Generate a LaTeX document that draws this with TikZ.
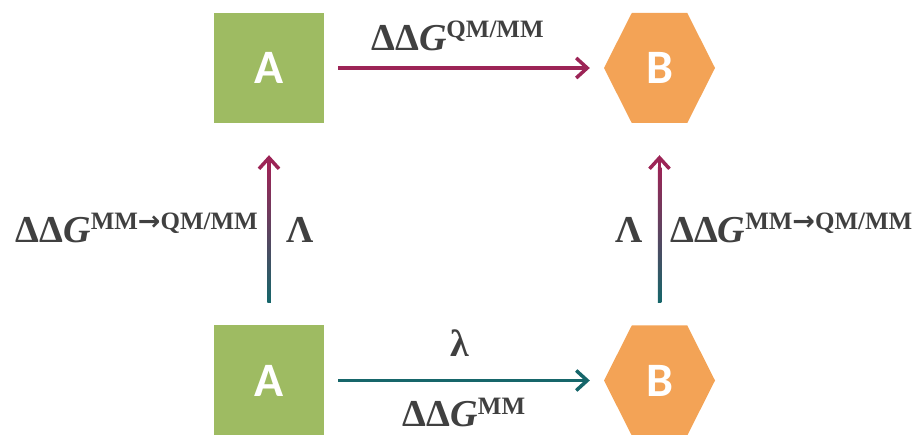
\documentclass[tikz,border=0pt]{standalone}
\usepackage{fontspec}
\setmainfont{Liberation Serif}
\newfontfamily\boxfont{Carlito}
\newfontfamily\arrfont{DejaVu Sans}
\usetikzlibrary{arrows.meta,calc}
\definecolor{boxgreen}{RGB}{158,187,98}
\definecolor{hexorange}{RGB}{243,163,86}
\definecolor{arrmaroon}{RGB}{156,36,86}
\definecolor{arrteal}{RGB}{22,102,106}
\definecolor{txtgray}{RGB}{64,64,64}
\newcommand{\ddgsup}[1]{{\fontsize{38}{38}\selectfont\bfseries\char"0394\char"0394\textit{G}\raisebox{13pt}{\fontsize{25}{25}\selectfont\bfseries #1}}}
\newcommand{\sarr}{{\arrfont\bfseries\fontsize{27}{27}\selectfont\raisebox{-1pt}{→}}}
\begin{document}
\begin{tikzpicture}[x=1pt,y=-1pt,
  sq/.style={rectangle, fill=boxgreen, minimum width=110pt, minimum height=110pt, inner sep=0pt,
     text=white, font=\boxfont\bfseries\fontsize{48}{48}\selectfont},
  hexbox/.style={rectangle, minimum width=111pt, minimum height=110pt, inner sep=0pt,
     text=white, font=\boxfont\bfseries\fontsize{48}{48}\selectfont},
  hexfill/.style={fill=hexorange},
  harrow/.style={line width=3.5pt, -{Straight Barb[length=11pt,width=20pt,line width=3.5pt]}},
  lbl/.style={text=txtgray, inner sep=0pt},
  greek/.style={text=txtgray, inner sep=0pt, font=\fontsize{38}{38}\selectfont\bfseries}
]
\useasboundingbox (0,0) rectangle (921,435);
% hexagon outlines
\coordinate (B1c) at (659.5,68);
\coordinate (B2c) at (659.5,380.5);
\foreach \c in {B1c,B2c}{
  \fill[hexfill] (\c) ++(-55.5,0) -- ++(27.75,-55) -- ++(55.5,0) -- ++(27.75,55)
     -- ++(-27.75,55) -- ++(-55.5,0) -- cycle;
}
\node[sq] (A1) at (269,68) {A};
\node[sq] (A2) at (269,380.5) {A};
\node[hexbox] (B1) at (B1c) {B};
\node[hexbox] (B2) at (B2c) {B};

% horizontal arrows
\draw[harrow, arrmaroon, shorten <=14pt, shorten >=14pt] (A1.east) -- (B1.west);
\draw[harrow, arrteal, shorten <=14pt, shorten >=14pt] (A2.east) -- (B2.west);

% vertical gradient arrows
\foreach \lo/\hi/\nm in {A2/A1/L, B2/B1/R}{
  \coordinate (\nm s) at ($(\lo.north)+(0,-23)$);
  \coordinate (\nm t) at ($(\hi.south)+(0,32)$);
  \shade[bottom color=arrteal, top color=arrmaroon]
     ($(\nm s)+(-1.75,0)$) rectangle ($(\nm t)+(1.75,12)$);
  \draw[harrow, arrmaroon, line cap=butt] ($(\nm t)+(0,14)$) -- (\nm t);
}

% labels
\node[lbl, anchor=base] at (457.5,51) {\ddgsup{QM/MM}};
\node[lbl, anchor=base east] at (258,243) {\ddgsup{MM\sarr QM/MM}};
\node[lbl, anchor=base west] at (670,243) {\ddgsup{MM\sarr QM/MM}};
\node[greek, anchor=base] at (300,243) {\char"039B};
\node[greek, anchor=base] at (629,243) {\char"039B};
\node[greek, anchor=base] at (460,357) {\char"03BB};
\node[lbl, anchor=base] at (464,427) {\ddgsup{MM}};
\end{tikzpicture}
\end{document}
